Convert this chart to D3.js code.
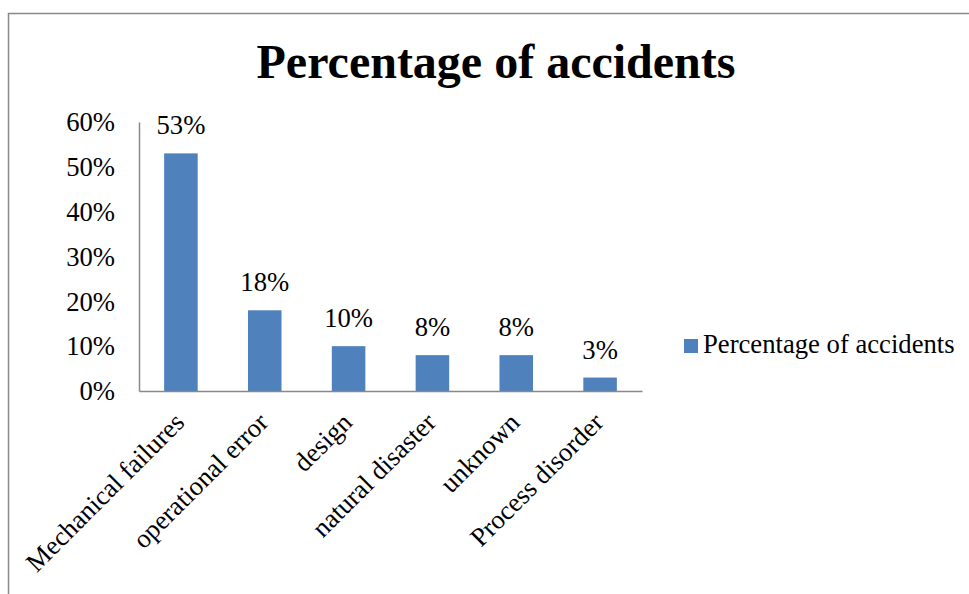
<!DOCTYPE html>
<html>
<head>
<meta charset="utf-8">
<script src="https://cdn.jsdelivr.net/npm/d3@7"></script>
<style>
  html, body { margin: 0; padding: 0; background: #fff; }
  svg { display: block; }
  text { font-family: "Liberation Serif", "Times New Roman", serif; fill: #000; }
</style>
</head>
<body>
<svg id="chart" width="969" height="594"></svg>
<script>
const categories = ["Mechanical failures", "operational error", "design", "natural disaster", "unknown", "Process disorder"];
const values = [0.53, 0.18, 0.10, 0.08, 0.08, 0.03];
const yTicks = [0, 0.1, 0.2, 0.3, 0.4, 0.5, 0.6];
const seriesName = "Percentage of accidents";
const titleText = "Percentage of accidents";

(function () {
const svg = d3.select("#chart");
const barColor = "#4F81BD";
const axisColor = "#898989";
const fs = "26.67px";

// outer frame
svg.append("rect")
  .attr("x", 8.5).attr("y", 13.5)
  .attr("width", 1000).attr("height", 1000)
  .attr("fill", "none").attr("stroke", axisColor).attr("stroke-width", 1.5);

const pLeft = 139, pRight = 642, pTop = 122, pBottom = 391;

const x = d3.scaleBand().domain(categories).range([pLeft, pRight]).paddingInner(0.6).paddingOuter(0.3);
const y = d3.scaleLinear().domain([0, 0.6]).range([pBottom, pTop]);

// title
svg.append("text")
  .attr("x", 496).attr("y", 78)
  .attr("text-anchor", "middle")
  .style("font-size", "48px").style("font-weight", "bold")
  .text(titleText);

// bars
svg.selectAll("rect.bar").data(values).enter().append("rect")
  .attr("class", "bar")
  .attr("x", (d, i) => x(categories[i]))
  .attr("width", x.bandwidth())
  .attr("y", d => y(d))
  .attr("height", d => y(0) - y(d))
  .attr("fill", barColor);

// data labels
svg.selectAll("text.dl").data(values).enter().append("text")
  .attr("class", "dl")
  .attr("x", (d, i) => x(categories[i]) + x.bandwidth() / 2)
  .attr("y", d => y(d) - 19)
  .attr("text-anchor", "middle")
  .style("font-size", fs)
  .text(d => Math.round(d * 100) + "%");

// y axis
const yAxis = d3.axisLeft(y).tickValues(yTicks).tickSize(0).tickPadding(24)
  .tickFormat(d => Math.round(d * 100) + "%");
const gy = svg.append("g").attr("transform", `translate(${pLeft},0)`).call(yAxis);
gy.attr("font-family", null).attr("font-size", null);
gy.select(".domain").attr("stroke", axisColor).attr("stroke-width", 1.5);
gy.selectAll("text")
  .style("font-family", '"Liberation Serif", "Times New Roman", serif')
  .style("font-size", fs).attr("fill", "#000")
  .attr("dy", "0.33em");

// x axis
const xAxis = d3.axisBottom(x).tickSize(0).tickFormat("");
const gx = svg.append("g").attr("transform", `translate(0,${pBottom})`).call(xAxis);
gx.select(".domain").attr("stroke", axisColor).attr("stroke-width", 1.5);

// rotated category labels
svg.selectAll("text.xl").data(categories).enter().append("text")
  .attr("class", "xl")
  .attr("transform", d => `translate(${x(d) + x.bandwidth() / 2 + 5},${pBottom + 33}) rotate(-45)`)
  .attr("text-anchor", "end")
  .style("font-size", fs)
  .text(d => d);

// legend
const lg = svg.append("g");
lg.append("rect").attr("x", 684).attr("y", 339).attr("width", 14).attr("height", 14).attr("fill", barColor);
lg.append("text").attr("x", 703).attr("y", 353).style("font-size", fs).text(seriesName);
})();
</script>
</body>
</html>
